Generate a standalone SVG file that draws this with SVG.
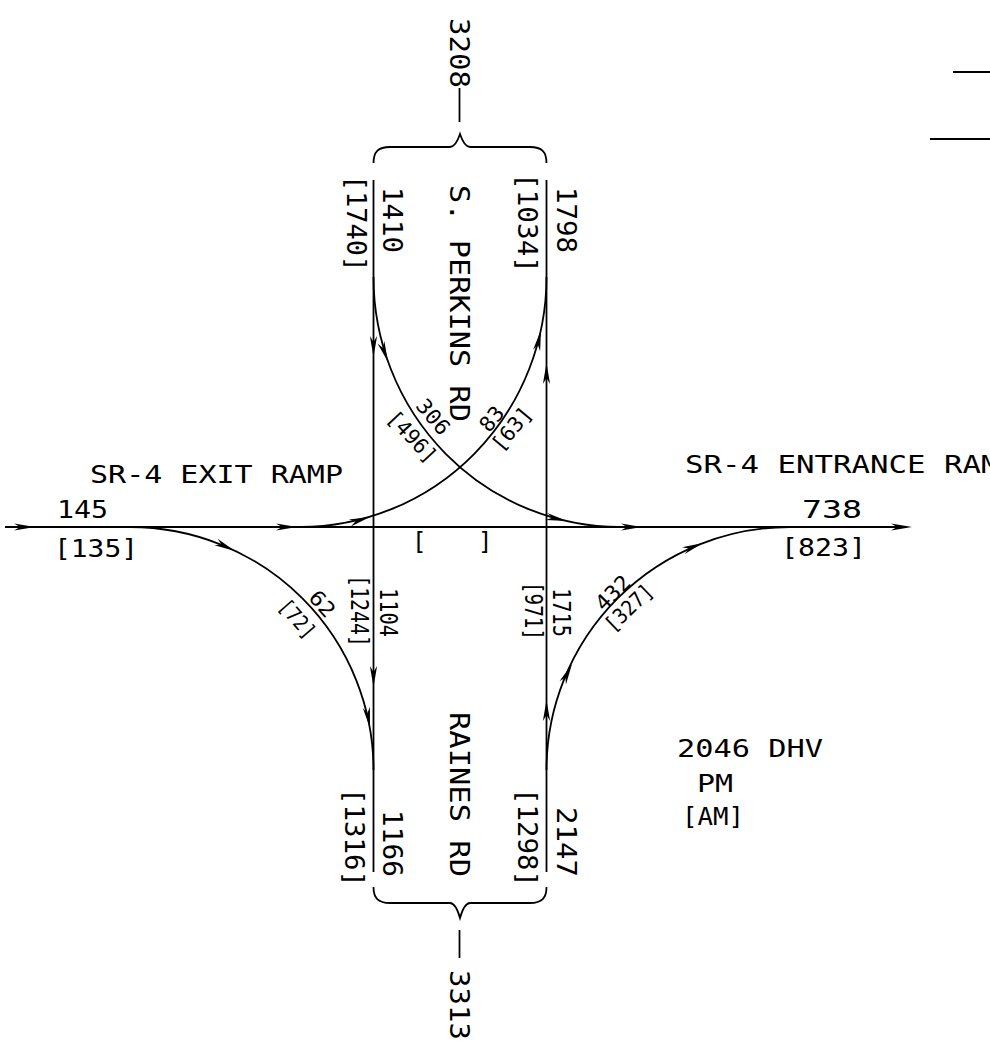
<svg xmlns="http://www.w3.org/2000/svg" xmlns:xlink="http://www.w3.org/1999/xlink" width="990" height="1050" viewBox="0 0 990 1050">
<style>
.ln{fill:none;stroke:#000;stroke-width:1.8}
.t{font-family:"DejaVu Sans Mono","Liberation Mono",monospace;font-size:25px;fill:#000}
.r{font-size:27px}
.m{font-size:24px}
.s{font-size:21px}
.ah{fill:#000}
</style>
<defs>
<path id="ah" class="ah" d="M0,0 L-21,-3.6 L-15,0 L-21,3.6 Z"/>
</defs>
<rect width="990" height="1050" fill="#fff"/>
<g id="roads">
<line class="ln" x1="5" y1="527" x2="905" y2="527"/>
<line class="ln" x1="373.5" y1="180" x2="373.5" y2="872"/>
<line class="ln" x1="546.5" y1="180" x2="546.5" y2="872"/>
<line x1="953" y1="72" x2="990" y2="72" stroke="#000" stroke-width="2.2"/>
<line x1="930" y1="139" x2="990" y2="139" stroke="#000" stroke-width="2.2"/>
</g>
<g id="connectors">
<path class="ln" d="M300,527 A246.5,250 0 0 0 546.5,277"/>
<path class="ln" d="M373.5,277 A246.5,250 0 0 0 620,527"/>
<path class="ln" d="M130,527 A243.5,243 0 0 1 373.5,770"/>
<path class="ln" d="M546.5,770 A243.5,243 0 0 1 790,527"/>
<use href="#ah" transform="translate(35,527)"/>
<use href="#ah" transform="translate(297,527)"/>
<use href="#ah" transform="translate(370,517) rotate(-16.6)"/>
<use href="#ah" transform="translate(541,330) rotate(-77.9)"/>
<use href="#ah" transform="translate(546.5,363) rotate(-90)"/>
<use href="#ah" transform="translate(373.5,357) rotate(90)"/>
<use href="#ah" transform="translate(388,362) rotate(70.3)"/>
<use href="#ah" transform="translate(567,521) rotate(12.5)"/>
<use href="#ah" transform="translate(642,527)"/>
<use href="#ah" transform="translate(912,527)"/>
<use href="#ah" transform="translate(235,551) rotate(25.4)"/>
<use href="#ah" transform="translate(370,728) rotate(80)"/>
<use href="#ah" transform="translate(373.5,687) rotate(90)"/>
<use href="#ah" transform="translate(546.5,700) rotate(-90)"/>
<use href="#ah" transform="translate(572,664) rotate(-63.8)"/>
<use href="#ah" transform="translate(703,543) rotate(-21)"/>
</g>
<g id="braces">
<path class="ln" d="M373.5,163 C373.5,152 378,147 390,147 L450,147 C455,147 458,140 460,134 C462,140 465,147 470,147 L530,147 C542,147 546.5,152 546.5,163"/>
<path class="ln" d="M373.5,887 C373.5,898 378,903 390,903 L450,903 C455,903 458,911 460,918 C462,911 465,903 470,903 L530,903 C542,903 546.5,898 546.5,887"/>
<line class="ln" x1="459.5" y1="88" x2="459.5" y2="122"/>
<line class="ln" x1="459.5" y1="930" x2="459.5" y2="958"/>
</g>
<g id="labels-horizontal" class="t">
<text x="90" y="483" textLength="253" lengthAdjust="spacingAndGlyphs">SR-4 EXIT RAMP</text>
<text x="57" y="518" textLength="51" lengthAdjust="spacingAndGlyphs">145</text>
<text x="54" y="557" textLength="84" lengthAdjust="spacingAndGlyphs">[135]</text>
<text x="685" y="473" textLength="333" lengthAdjust="spacingAndGlyphs">SR-4 ENTRANCE RAMP</text>
<text x="802" y="518" textLength="60" lengthAdjust="spacingAndGlyphs">738</text>
<text x="781" y="556" textLength="85" lengthAdjust="spacingAndGlyphs">[823]</text>
<text class="m" y="550"><tspan x="412">[</tspan><tspan x="478">]</tspan></text>
<text x="677" y="757" textLength="146" lengthAdjust="spacingAndGlyphs">2046 DHV</text>
<text x="697" y="792" textLength="36" lengthAdjust="spacingAndGlyphs">PM</text>
<text x="682" y="825" textLength="62" lengthAdjust="spacingAndGlyphs">[AM]</text>
</g>
<g id="labels-north" class="t r">
<text transform="translate(450,18) rotate(90)" textLength="70" lengthAdjust="spacingAndGlyphs">3208</text>
<text transform="translate(347,175) rotate(90)" textLength="97" lengthAdjust="spacingAndGlyphs">[1740]</text>
<text transform="translate(383,187) rotate(90)" textLength="66" lengthAdjust="spacingAndGlyphs">1410</text>
<text transform="translate(450,185) rotate(90)" textLength="237" lengthAdjust="spacingAndGlyphs">S. PERKINS RD</text>
<text transform="translate(518,173) rotate(90)" textLength="100" lengthAdjust="spacingAndGlyphs">[1034]</text>
<text transform="translate(557,187) rotate(90)" textLength="66" lengthAdjust="spacingAndGlyphs">1798</text>
</g>
<g id="labels-middle" class="t m">
<text transform="translate(351,575) rotate(90)" textLength="72" lengthAdjust="spacingAndGlyphs">[1244]</text>
<text transform="translate(380,588) rotate(90)" textLength="49" lengthAdjust="spacingAndGlyphs">1104</text>
<text transform="translate(525,582) rotate(90)" textLength="58" lengthAdjust="spacingAndGlyphs">[971]</text>
<text transform="translate(553,588) rotate(90)" textLength="49" lengthAdjust="spacingAndGlyphs">1715</text>
</g>
<g id="labels-south" class="t r">
<text transform="translate(450,712) rotate(90)" textLength="165" lengthAdjust="spacingAndGlyphs">RAINES RD</text>
<text transform="translate(345,788) rotate(90)" textLength="99" lengthAdjust="spacingAndGlyphs">[1316]</text>
<text transform="translate(383,810) rotate(90)" textLength="67" lengthAdjust="spacingAndGlyphs">1166</text>
<text transform="translate(518,788) rotate(90)" textLength="99" lengthAdjust="spacingAndGlyphs">[1298]</text>
<text transform="translate(557,807) rotate(90)" textLength="70" lengthAdjust="spacingAndGlyphs">2147</text>
<text transform="translate(450,970) rotate(90)" textLength="70" lengthAdjust="spacingAndGlyphs">3313</text>
</g>
<g id="labels-turns" class="t s" text-anchor="middle">
<text transform="translate(433,417) rotate(50)" y="7" textLength="40" lengthAdjust="spacingAndGlyphs">306</text>
<text transform="translate(412,437) rotate(47)" y="7" textLength="62" lengthAdjust="spacingAndGlyphs">[496]</text>
<text transform="translate(492,419) rotate(-50)" y="7" textLength="26" lengthAdjust="spacingAndGlyphs">83</text>
<text transform="translate(512,429) rotate(-50)" y="7" textLength="50" lengthAdjust="spacingAndGlyphs">[63]</text>
<text transform="translate(322,604) rotate(48)" y="7" textLength="28" lengthAdjust="spacingAndGlyphs">62</text>
<text transform="translate(297,619) rotate(49)" y="7" textLength="44" lengthAdjust="spacingAndGlyphs">[72]</text>
<text transform="translate(613,593) rotate(-45)" y="7" textLength="40" lengthAdjust="spacingAndGlyphs">432</text>
<text transform="translate(629,608) rotate(-44)" y="7" textLength="58" lengthAdjust="spacingAndGlyphs">[327]</text>
</g>
</svg>
